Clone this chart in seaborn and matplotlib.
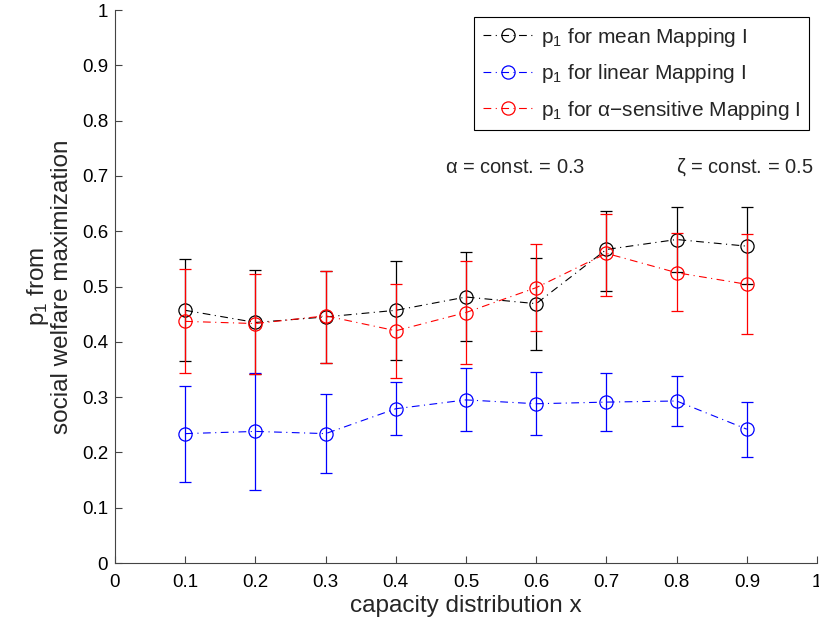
import matplotlib
matplotlib.use("Agg")
import matplotlib.pyplot as plt
import seaborn as sns
import pandas as pd
import numpy as np

x = [0.1, 0.2, 0.3, 0.4, 0.5, 0.6, 0.7, 0.8, 0.9]

mean_p1 = [0.457, 0.435, 0.445, 0.457, 0.481, 0.469, 0.567, 0.585, 0.573]
mean_lo = [0.365, 0.342, 0.362, 0.367, 0.402, 0.386, 0.492, 0.526, 0.504]
mean_hi = [0.549, 0.530, 0.528, 0.546, 0.562, 0.552, 0.637, 0.643, 0.643]

lin_p1 = [0.234, 0.238, 0.234, 0.279, 0.295, 0.288, 0.291, 0.293, 0.242]
lin_lo = [0.146, 0.132, 0.163, 0.232, 0.238, 0.231, 0.238, 0.247, 0.191]
lin_hi = [0.320, 0.343, 0.305, 0.327, 0.353, 0.345, 0.344, 0.339, 0.292]

alp_p1 = [0.437, 0.433, 0.447, 0.420, 0.453, 0.498, 0.560, 0.525, 0.504]
alp_lo = [0.343, 0.341, 0.362, 0.335, 0.359, 0.419, 0.482, 0.456, 0.415]
alp_hi = [0.531, 0.522, 0.528, 0.505, 0.546, 0.577, 0.632, 0.596, 0.595]

tick_labels = ["0", "0.1", "0.2", "0.3", "0.4", "0.5", "0.6", "0.7", "0.8", "0.9", "1"]
labels = [r"p$_1$ for mean Mapping I",
          r"p$_1$ for linear Mapping I",
          r"p$_1$ for $\alpha$$-$sensitive Mapping I"]
colors = ["black", "blue", "red"]

sns.set_theme(style="ticks")
plt.rcParams['font.family'] = ['Liberation Sans', 'DejaVu Sans']
plt.rcParams['mathtext.fontset'] = 'custom'
plt.rcParams['mathtext.rm'] = 'Liberation Sans'
plt.rcParams['mathtext.it'] = 'Liberation Sans'

fig = plt.figure(figsize=(8.19, 6.26), dpi=100)
ax = fig.add_axes([0.1404, 0.1006, 0.8572, 0.8834])

series = [(mean_p1, mean_lo, mean_hi), (lin_p1, lin_lo, lin_hi), (alp_p1, alp_lo, alp_hi)]
for (vals, lo, hi), lab, col in zip(series, labels, colors):
    df = pd.DataFrame({"x": x, "y": vals})
    sns.lineplot(data=df, x="x", y="y", ax=ax, color=col, linestyle=(0, (7, 4, 1, 4)),
                 linewidth=0.8, marker="o", markersize=9.5, markerfacecolor="none",
                 markeredgecolor=col, markeredgewidth=0.9, label=lab)
    yerr = [np.array(vals) - np.array(lo), np.array(hi) - np.array(vals)]
    ax.errorbar(x, vals, yerr=yerr, fmt="none", ecolor=col, elinewidth=0.9,
                capsize=4.5, capthick=0.9)

ax.set_xlim(0, 1)
ax.set_ylim(0, 1)
ax.set_xticks(np.arange(0, 1.01, 0.1))
ax.set_yticks(np.arange(0, 1.01, 0.1))
ax.set_xticklabels(tick_labels)
ax.set_yticklabels(tick_labels)
ax.tick_params(direction="in", length=5, width=0.8, color="#444444", labelsize=13.5,
               labelcolor="black")
ax.tick_params(axis="x", pad=8)
ax.tick_params(axis="y", pad=5)
for s in ["top", "right"]:
    ax.spines[s].set_visible(False)
for s in ["left", "bottom"]:
    ax.spines[s].set_color("#444444")
    ax.spines[s].set_linewidth(0.8)

ax.set_xlabel("capacity distribution x", fontsize=17.5, labelpad=3)
ax.set_ylabel("p$_1$ from\nsocial welfare maximization", fontsize=17.5, labelpad=6,
              linespacing=1.0)

ax.text(0.47, 0.715, r"$\alpha$ = const. = 0.3", fontsize=14.5, ha="left", va="center")
ax.text(0.995, 0.715, r"$\zeta$ = const. = 0.5", fontsize=14.5, ha="right", va="center")

leg = ax.legend(loc="upper right", bbox_to_anchor=(0.988, 0.987), fontsize=15,
                frameon=True, fancybox=False, edgecolor="black", framealpha=1,
                handlelength=2.4, handletextpad=0.4, borderpad=0.4, labelspacing=0.65,
                borderaxespad=0)
leg.get_frame().set_linewidth(0.8)

fig.savefig("out.png", dpi=100)
